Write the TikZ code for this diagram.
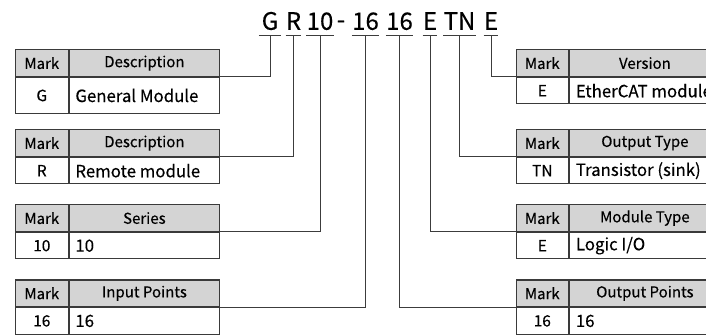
\documentclass[tikz,border=0pt]{standalone}
\usepackage{fontspec}
\setmainfont{Noto Sans CJK SC}[FakeBold=0.3]
\definecolor{tabline}{HTML}{3A3A3A}
\definecolor{hdrfill}{HTML}{D4D4D4}
\definecolor{connline}{HTML}{3C3C3C}
\newcommand{\codetable}[8]{%
  \node[hdrm] (#1hm) at (#2,#3) {Mark};
  \node[hdrd] (#1hd) at (#1hm.north east) {#6};
  \node[bodym, minimum height=#4] (#1bm) at (#1hm.south west) {#5};
  \node[bodyd, minimum height=#4] (#1bd) at (#1bm.north east) {\makebox[138pt][l]{#7}};
}
\begin{document}
\begin{tikzpicture}[x=1pt,y=-1pt,
  cell/.style={draw=tabline, line width=1.1pt, anchor=north west, inner sep=0pt},
  hdrm/.style={cell, fill=hdrfill, minimum width=52.5pt, minimum height=26.5pt, font=\fontsize{15}{15}\selectfont},
  hdrd/.style={cell, fill=hdrfill, minimum width=150.5pt, minimum height=26.5pt, font=\fontsize{15}{15}\selectfont},
  bodym/.style={cell, fill=white, minimum width=52.5pt, font=\fontsize{15.5}{15.5}\selectfont},
  bodyd/.style={cell, fill=white, inner xsep=6.25pt, font=\fontsize{16.8}{16.8}\selectfont},
  code/.style={anchor=south, inner sep=0pt, text depth=5.7pt, font=\fontsize{24}{24}\selectfont},
  conn/.style={draw=connline, line width=0.9pt}
]
\useasboundingbox (0,0) rectangle (706,336);
\clip (0,0) rectangle (706,336);
\fill[white] (0,0) rectangle (706,336);

% code letters
\node[code, minimum width=22pt] (cG) at (270,35.7) {G};
\node[code, minimum width=15pt] (cR) at (293.5,35.7) {R};
\node[code, minimum width=26.5pt] (cS) at (320,35.7) {10};
\node[code, yshift=1.5pt] (cdash) at (341,35.7) {-};
\node[code, minimum width=25pt] (cI) at (365.5,35.7) {16};
\node[code, minimum width=25pt] (cO) at (399.5,35.7) {16};
\node[code, minimum width=12pt] (cM) at (430,35.7) {E};
\node[code, minimum width=31pt] (cT) at (459.5,35.7) {TN};
\node[code, minimum width=12pt] (cV) at (491,35.7) {E};
\foreach \n in {cG,cR,cS,cI,cO,cM,cT,cV}
  \draw[conn] (\n.south west) -- (\n.south east);

% tables
\codetable{ta}{15}{49.3}{36pt}{G}{Description}{General Module}{}
\codetable{tb}{15}{129.3}{26.5pt}{R}{Description}{Remote module}{}
\codetable{tc}{15}{204.3}{26.5pt}{10}{Series}{10}{}
\codetable{td}{15}{279.5}{26.5pt}{16}{Input Points}{16}{}
\codetable{ra}{515.5}{49.3}{26.5pt}{E}{Version}{EtherCAT module}{}
\codetable{rb}{515.5}{129.3}{26.5pt}{TN}{Output Type}{Transistor (sink)}{}
\codetable{rc}{515.5}{204.3}{26.5pt}{E}{Module Type}{Logic I/O}{}
\codetable{rd}{515.5}{279.5}{26.5pt}{16}{Output Points}{16}{}

% connectors
\draw[conn] (cG.south) |- (tahd.south east);
\draw[conn] (cR.south) |- (tbhd.south east);
\draw[conn] (cS.south) |- (tchd.south east);
\draw[conn] (cI.south) |- (tdhd.south east);
\draw[conn] (cO.south) |- (rdhm.south west);
\draw[conn] (cM.south) |- (rchm.south west);
\draw[conn] (cT.south) |- (rbhm.south west);
\draw[conn] (cV.south) |- (rahm.south west);
\end{tikzpicture}
\end{document}
